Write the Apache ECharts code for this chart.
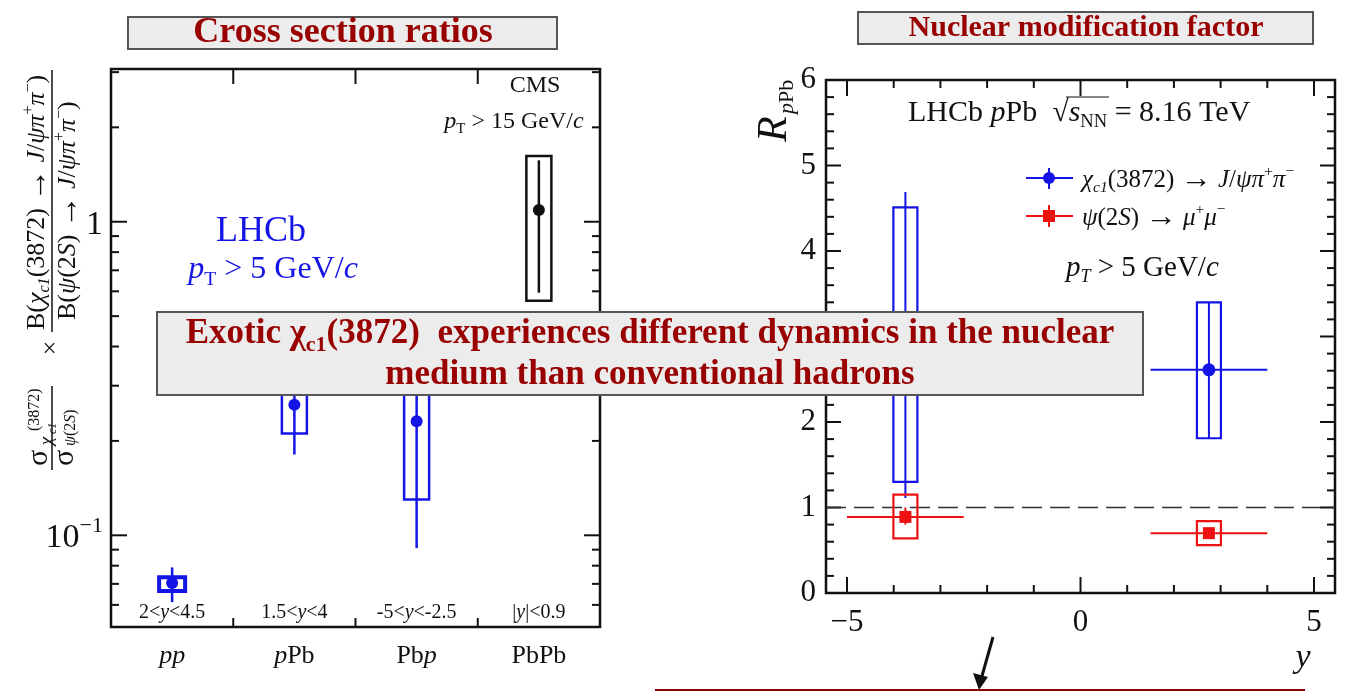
<!DOCTYPE html>
<html>
<head>
<meta charset="utf-8">
<script src="https://cdn.jsdelivr.net/npm/echarts@6/dist/echarts.min.js"></script>
<style>
  html, body { margin: 0; padding: 0; background: #ffffff; }
  #chart { width: 1345px; height: 692px; }
</style>
</head>
<body>
<div id="chart"></div>
<script>
// ---------- Left panel: cross-section ratios (log scale) ----------
const ratioCategories = ['pp', 'pPb', 'Pbp', 'PbPb'];
const ratioRapidity = ['2<y<4.5', '1.5<y<4', '-5<y<-2.5', '|y|<0.9'];
const ratioValue = [0.0705, 0.261, 0.231, 1.09];
const ratioStatLow = [0.0612, 0.181, 0.091, 0.594];
const ratioStatHigh = [0.079, 0.36, 0.45, 1.57];
const ratioSystLow = [0.0664, 0.211, 0.130, 0.56];
const ratioSystHigh = [0.0735, 0.32, 0.40, 1.62];
const ratioMajorTicks = [0.1, 1];
const ratioMinorTicks = [0.06, 0.07, 0.08, 0.09, 0.2, 0.3, 0.4, 0.5, 0.6, 0.7, 0.8, 0.9, 2, 3];

// ---------- Right panel: R_pPb versus rapidity ----------
const rapidityCenter = [-3.75, 2.75];
const rapidityLow = [-5, 1.5];
const rapidityHigh = [-2.5, 4];
const chiR = [2.9, 2.61];
const chiStatLow = [1.11, 1.81];
const chiStatHigh = [4.69, 3.40];
const chiSystLow = [1.30, 1.81];
const chiSystHigh = [4.51, 3.40];
const psiR = [0.89, 0.70];
const psiStatLow = [0.80, 0.65];
const psiStatHigh = [1.00, 0.75];
const psiSystLow = [0.64, 0.56];
const psiSystHigh = [1.15, 0.84];
const rReference = 1;
const rMajorTicks = [0, 1, 2, 3, 4, 5, 6];
const rMinorTicks = [0.2, 0.4, 0.6, 0.8, 1.2, 1.4, 1.6, 1.8, 2.2, 2.4, 2.6, 2.8, 3.2, 3.4, 3.6, 3.8,
                     4.2, 4.4, 4.6, 4.8, 5.2, 5.4, 5.6, 5.8];
const yMajorTicks = [-5, 0, 5];
const yMinorTicks = [-4, -3, -2, -1, 1, 2, 3, 4];

// ---------- styling ----------
const SERIF = '"Liberation Serif", "DejaVu Serif", serif';
const BLUE = '#1414e6';
const RED = '#ee1111';
const INK = '#111111';
const DARKRED = '#990000';
const ratioColors = [BLUE, BLUE, BLUE, INK];

function tok(size, c, extra) {
  return Object.assign({ fontFamily: SERIF, fontSize: size, fill: c, color: c }, extra || {});
}
function richSet(size, color) {
  const c = color || INK;
  const lh = size * 1.25;
  return {
    n: tok(size, c, { verticalAlign: 'middle', lineHeight: lh }),
    i: tok(size, c, { fontStyle: 'italic', verticalAlign: 'middle', lineHeight: lh }),
    a: tok(size * 1.25, c, { verticalAlign: 'middle', lineHeight: lh }),
    sub: tok(size * 0.62, c, { verticalAlign: 'bottom', lineHeight: size * 0.75 }),
    isub: tok(size * 0.62, c, { fontStyle: 'italic', verticalAlign: 'bottom', lineHeight: size * 0.75 }),
    sup: tok(size * 0.62, c, { verticalAlign: 'top', lineHeight: size * 0.75 })
  };
}
function richText(x, y, text, size, color, align, extra) {
  return Object.assign({
    type: 'text', x: x, y: y, z: 50,
    style: {
      text: text, rich: richSet(size, color),
      fontFamily: SERIF, fontSize: size, fill: color || INK,
      align: align || 'left', textAlign: align || 'left',
      verticalAlign: 'middle', textVerticalAlign: 'middle'
    }
  }, extra || {});
}

// ---------- series renderers ----------
function ratioFrameTicks(params, api) {
  const cs = params.coordSys;
  const L = cs.x, R = cs.x + cs.width, T = cs.y, B = cs.y + cs.height;
  const ch = [];
  const add = (x1, y1, x2, y2) => ch.push({ type: 'line', shape: { x1, y1, x2, y2 }, style: { stroke: INK, lineWidth: 2 } });
  ratioMajorTicks.forEach(v => { const y = api.coord([0, v])[1]; add(L, y, L + 16, y); add(R, y, R - 16, y); });
  ratioMinorTicks.forEach(v => { const y = api.coord([0, v])[1]; add(L, y, L + 8, y); add(R, y, R - 8, y); });
  for (let k = 0; k < ratioCategories.length - 1; k++) {
    const x = (api.coord([k, 1])[0] + api.coord([k + 1, 1])[0]) / 2;
    add(x, B, x, B - 9);
    add(x, T, x, T + 15);
  }
  ratioRapidity.forEach((label, k) => {
    ch.push({
      type: 'text', x: api.coord([k, 1])[0], y: B - 14,
      style: { text: label.replace(/y/g, '{i|y}'), rich: richSet(20), fontFamily: SERIF, fontSize: 20, fill: INK,
               align: 'center', verticalAlign: 'middle' }
    });
  });
  return { type: 'group', children: ch };
}

function ratioPoint(params, api) {
  const k = api.value(0);
  const color = ratioColors[k];
  const c = api.coord([k, api.value(1)]);
  const sLo = api.coord([k, api.value(2)])[1], sHi = api.coord([k, api.value(3)])[1];
  const bLo = api.coord([k, api.value(4)])[1], bHi = api.coord([k, api.value(5)])[1];
  const hw = k === 0 ? 13 : 12.5;
  return {
    type: 'group', children: [
      { type: 'rect', shape: { x: c[0] - hw, y: bHi, width: 2 * hw, height: bLo - bHi },
        style: { fill: 'none', stroke: color, lineWidth: k === 0 ? 4 : 2.5 } },
      { type: 'line', shape: { x1: c[0], y1: sHi, x2: c[0], y2: sLo }, style: { stroke: color, lineWidth: 2.5 } },
      { type: 'circle', shape: { cx: c[0], cy: c[1], r: 6 }, style: { fill: color, stroke: 'none' } }
    ]
  };
}

function rFrameTicks(params, api) {
  const cs = params.coordSys;
  const L = cs.x, R = cs.x + cs.width, T = cs.y, B = cs.y + cs.height;
  const ch = [];
  const add = (x1, y1, x2, y2) => ch.push({ type: 'line', shape: { x1, y1, x2, y2 }, style: { stroke: INK, lineWidth: 2 } });
  rMajorTicks.forEach(v => { const y = api.coord([0, v])[1]; add(L, y, L + 15, y); add(R, y, R - 15, y); });
  rMinorTicks.forEach(v => { const y = api.coord([0, v])[1]; add(L, y, L + 8, y); add(R, y, R - 8, y); });
  yMajorTicks.forEach(v => { const x = api.coord([v, 0])[0]; add(x, B, x, B - 16); add(x, T, x, T + 16); });
  yMinorTicks.forEach(v => { const x = api.coord([v, 0])[0]; add(x, B, x, B - 8); add(x, T, x, T + 8); });
  return { type: 'group', children: ch };
}

function rPoint(color, square) {
  return function (params, api) {
    const x = api.value(0), v = api.value(3);
    const c = api.coord([x, v]);
    const xl = api.coord([api.value(1), v])[0], xh = api.coord([api.value(2), v])[0];
    const sLo = api.coord([x, api.value(4)])[1], sHi = api.coord([x, api.value(5)])[1];
    const bLo = api.coord([x, api.value(6)])[1], bHi = api.coord([x, api.value(7)])[1];
    const hw = 12;
    const marker = square
      ? { type: 'rect', shape: { x: c[0] - 6, y: c[1] - 6, width: 12, height: 12 }, style: { fill: color, stroke: 'none' } }
      : { type: 'circle', shape: { cx: c[0], cy: c[1], r: 6.5 }, style: { fill: color, stroke: 'none' } };
    return {
      type: 'group', children: [
        { type: 'rect', shape: { x: c[0] - hw, y: bHi, width: 2 * hw, height: bLo - bHi },
          style: { fill: 'none', stroke: color, lineWidth: 2.2 } },
        { type: 'line', shape: { x1: xl, y1: c[1], x2: xh, y2: c[1] }, style: { stroke: color, lineWidth: 2 } },
        { type: 'line', shape: { x1: c[0], y1: sHi, x2: c[0], y2: sLo }, style: { stroke: color, lineWidth: 2 } },
        marker
      ]
    };
  };
}

const ratioData = ratioCategories.map((_, k) =>
  [k, ratioValue[k], ratioStatLow[k], ratioStatHigh[k], ratioSystLow[k], ratioSystHigh[k]]);
const chiData = rapidityCenter.map((x, k) =>
  [x, rapidityLow[k], rapidityHigh[k], chiR[k], chiStatLow[k], chiStatHigh[k], chiSystLow[k], chiSystHigh[k]]);
const psiData = rapidityCenter.map((x, k) =>
  [x, rapidityLow[k], rapidityHigh[k], psiR[k], psiStatLow[k], psiStatHigh[k], psiSystLow[k], psiSystHigh[k]]);

const R_XMIN = -5.45, R_XMAX = 5.45;

const boldRed = (size, extra) => tok(size, DARKRED, Object.assign({ fontWeight: 'bold', verticalAlign: 'middle', lineHeight: size * 1.3 }, extra || {}));

// ---------- decorations: titles, annotations, legend, axis titles ----------
const graphics = [
  // panel titles
  { type: 'rect', z: 40, shape: { x: 128, y: 17, width: 429, height: 32 }, style: { fill: '#ececec', stroke: '#555', lineWidth: 2 } },
  { type: 'text', z: 41, x: 343, y: 33, style: { text: 'Cross section ratios', fontFamily: SERIF, fontWeight: 'bold', fontSize: 36, fill: DARKRED, align: 'center', verticalAlign: 'middle' } },
  { type: 'rect', z: 40, shape: { x: 858, y: 12, width: 455, height: 32 }, style: { fill: '#ececec', stroke: '#555', lineWidth: 2 } },
  { type: 'text', z: 41, x: 1086, y: 28, style: { text: 'Nuclear modification factor', fontFamily: SERIF, fontWeight: 'bold', fontSize: 30, fill: DARKRED, align: 'center', verticalAlign: 'middle' } },

  // left panel annotations
  richText(535, 86, 'CMS', 24, INK, 'center'),
  richText(514, 122, '{i|p}{sub|T} > 15 GeV/{i|c}', 24, INK, 'center'),
  richText(261, 232, 'LHCb', 36, BLUE, 'center'),
  richText(273, 270, '{i|p}{sub|T} > 5 GeV/{i|c}', 32, BLUE, 'center'),

  // right panel annotations
  richText(908, 113, 'LHCb {i|p}Pb  √{i|s}{sub|NN} = 8.16 TeV', 30, INK, 'left'),
  { type: 'line', z: 50, shape: { x1: 1066, y1: 97, x2: 1109, y2: 97 }, style: { stroke: INK, lineWidth: 1.2 } },
  richText(1066, 268, '{i|p}{isub|T} > 5 GeV/{i|c}', 29, INK, 'left'),

  // legend
  { type: 'line', z: 50, shape: { x1: 1026, y1: 178, x2: 1073, y2: 178 }, style: { stroke: BLUE, lineWidth: 2 } },
  { type: 'line', z: 50, shape: { x1: 1049, y1: 168, x2: 1049, y2: 189 }, style: { stroke: BLUE, lineWidth: 2 } },
  { type: 'circle', z: 50, shape: { cx: 1049, cy: 178, r: 6 }, style: { fill: BLUE } },
  richText(1082, 180, '{i|χ}{isub|c1}(3872) {a|→} {i|J}/{i|ψπ}{sup|+}{i|π}{sup|−}', 25, INK, 'left'),
  { type: 'line', z: 50, shape: { x1: 1026, y1: 216, x2: 1073, y2: 216 }, style: { stroke: RED, lineWidth: 2 } },
  { type: 'line', z: 50, shape: { x1: 1049, y1: 205, x2: 1049, y2: 227 }, style: { stroke: RED, lineWidth: 2 } },
  { type: 'rect', z: 50, shape: { x: 1043, y: 210, width: 12, height: 12 }, style: { fill: RED } },
  richText(1082, 218, '{i|ψ}(2{i|S}) {a|→} {i|μ}{sup|+}{i|μ}{sup|−}', 25, INK, 'left'),

  // axis titles
  richText(1303, 658, '{i|y}', 34, INK, 'center'),
  {
    type: 'group', x: 775, y: 142, rotation: Math.PI / 2, z: 50,
    children: [
      { type: 'text', x: 0, y: 0, style: { text: 'R', fontFamily: SERIF, fontStyle: 'italic', fontSize: 42, fill: INK, align: 'left', verticalAlign: 'middle' } },
      richText(28, 12, '{i|p}{n|Pb}', 22, INK, 'left')
    ]
  },
  {
    type: 'group', x: 52, y: 472, rotation: Math.PI / 2, z: 50,
    children: [
      { type: 'text', x: 14, y: -13, style: { text: 'σ', fontFamily: SERIF, fontSize: 30, fill: INK, align: 'center', verticalAlign: 'middle' } },
      { type: 'text', x: 31, y: -5, style: { text: 'χ', fontFamily: SERIF, fontStyle: 'italic', fontSize: 19, fill: INK, align: 'center', verticalAlign: 'middle' } },
      { type: 'text', x: 38, y: 1, style: { text: 'c1', fontFamily: SERIF, fontStyle: 'italic', fontSize: 12, fill: INK, align: 'left', verticalAlign: 'middle' } },
      { type: 'text', x: 41, y: -17, style: { text: '(3872)', fontFamily: SERIF, fontSize: 16, fill: INK, align: 'left', verticalAlign: 'middle' } },
      { type: 'line', shape: { x1: 2, y1: 0, x2: 86, y2: 0 }, style: { stroke: INK, lineWidth: 1.5 } },
      { type: 'text', x: 14, y: 13, style: { text: 'σ', fontFamily: SERIF, fontSize: 30, fill: INK, align: 'center', verticalAlign: 'middle' } },
      richText(26, 19, '{i|ψ}(2{i|S})', 16, INK, 'left'),
      { type: 'text', x: 124, y: -1, style: { text: '×', fontFamily: SERIF, fontSize: 26, fill: INK, align: 'center', verticalAlign: 'middle' } },
      richText(142, -15, '{n|B(}{i|χ}{isub|c1}{n|(3872) }{a|→}{n| }{i|J}{n|/}{i|ψπ}{sup|+}{i|π}{sup|−}{n|)}', 26, INK, 'left'),
      { type: 'line', shape: { x1: 140, y1: 0, x2: 402, y2: 0 }, style: { stroke: INK, lineWidth: 1.5 } },
      richText(152, 16, '{n|B(}{i|ψ}{n|(2}{i|S}{n|) }{a|→}{n| }{i|J}{n|/}{i|ψπ}{sup|+}{i|π}{sup|−}{n|)}', 26, INK, 'left')
    ]
  },

  // summary statement across both panels
  { type: 'rect', z: 90, shape: { x: 157, y: 312, width: 986, height: 83 }, style: { fill: '#ececec', stroke: '#555', lineWidth: 2 } },
  {
    type: 'text', z: 91, x: 650, y: 334,
    style: {
      text: '{t|Exotic }{t|χ}{s|c1}{t|(3872)  experiences different dynamics in the nuclear}',
      rich: { t: boldRed(35), s: boldRed(22, { verticalAlign: 'bottom', lineHeight: 24 }) },
      fontFamily: SERIF, fontWeight: 'bold', fontSize: 35, fill: DARKRED,
      align: 'center', verticalAlign: 'middle'
    }
  },
  { type: 'text', z: 91, x: 650, y: 375, style: { text: 'medium than conventional hadrons', fontFamily: SERIF, fontWeight: 'bold', fontSize: 35, fill: DARKRED, align: 'center', verticalAlign: 'middle' } },

  // pointer and underline at the bottom
  { type: 'line', z: 50, shape: { x1: 993, y1: 637, x2: 982, y2: 676 }, style: { stroke: INK, lineWidth: 3 } },
  { type: 'polygon', z: 50, shape: { points: [[973, 673], [988, 677], [979, 690]] }, style: { fill: INK } },
  { type: 'line', z: 50, shape: { x1: 655, y1: 690, x2: 1305, y2: 690 }, style: { stroke: '#8b0000', lineWidth: 2 } }
];

const chart = echarts.init(document.getElementById('chart'), null, { renderer: 'canvas' });
chart.setOption({
  animation: false,
  backgroundColor: '#ffffff',
  grid: [
    { left: 111, top: 69, width: 489, height: 558, show: true, borderColor: INK, borderWidth: 2.5, backgroundColor: 'transparent' },
    { left: 826, top: 80, width: 509, height: 513, show: true, borderColor: INK, borderWidth: 2.5, backgroundColor: 'transparent' }
  ],
  xAxis: [
    {
      type: 'category', gridIndex: 0, data: ratioCategories, boundaryGap: true,
      axisLine: { show: false }, axisTick: { show: false }, splitLine: { show: false },
      axisLabel: {
        margin: 16, fontFamily: SERIF, fontSize: 26, color: INK, interval: 0,
        formatter: v => v.replace(/p/g, '{i|p}'),
        rich: { i: { fontFamily: SERIF, fontSize: 26, fontStyle: 'italic', color: INK } }
      }
    },
    {
      type: 'value', gridIndex: 1, min: R_XMIN, max: R_XMAX,
      axisLine: { show: false }, axisTick: { show: false }, splitLine: { show: false },
      axisLabel: {
        customValues: yMajorTicks, margin: 14, fontFamily: SERIF, fontSize: 31, color: INK,
        formatter: v => (v < 0 ? '−' + Math.abs(v) : String(v))
      }
    }
  ],
  yAxis: [
    {
      type: 'log', gridIndex: 0, logBase: 10, min: 0.051, max: 3.07,
      axisLine: { show: false }, axisTick: { show: false }, splitLine: { show: false },
      axisLabel: {
        margin: 8, fontFamily: SERIF, fontSize: 34, color: INK, showMinLabel: false, showMaxLabel: false,
        formatter: v => (Math.abs(v - 1) < 1e-6 ? '{m|1}' : (Math.abs(v - 0.1) < 1e-7 ? '{m|10}{e|−1}' : '')),
        rich: {
          m: { fontFamily: SERIF, fontSize: 34, color: INK, verticalAlign: 'bottom', lineHeight: 40 },
          e: { fontFamily: SERIF, fontSize: 22, color: INK, verticalAlign: 'top', lineHeight: 22 }
        }
      }
    },
    {
      type: 'value', gridIndex: 1, min: 0, max: 6, interval: 1,
      axisLine: { show: false }, axisTick: { show: false }, splitLine: { show: false },
      axisLabel: { margin: 10, fontFamily: SERIF, fontSize: 31, color: INK }
    }
  ],
  series: [
    { type: 'custom', name: 'ratio frame', xAxisIndex: 0, yAxisIndex: 0, silent: true, clip: false,
      renderItem: ratioFrameTicks, data: [[0, 1]], z: 3 },
    { type: 'custom', name: 'ratio', xAxisIndex: 0, yAxisIndex: 0, silent: true, clip: false,
      renderItem: ratioPoint, data: ratioData, z: 5 },
    { type: 'custom', name: 'R frame', xAxisIndex: 1, yAxisIndex: 1, silent: true, clip: false,
      renderItem: rFrameTicks, data: [[0, 0]], z: 3 },
    { type: 'line', name: 'unity', xAxisIndex: 1, yAxisIndex: 1, silent: true, symbol: 'none',
      data: [[R_XMIN, rReference], [R_XMAX, rReference]],
      lineStyle: { color: '#333', width: 1.6, type: [20, 8] }, z: 4 },
    { type: 'custom', name: 'chi_c1(3872)', xAxisIndex: 1, yAxisIndex: 1, silent: true, clip: false,
      renderItem: rPoint(BLUE, false), data: chiData, z: 5 },
    { type: 'custom', name: 'psi(2S)', xAxisIndex: 1, yAxisIndex: 1, silent: true, clip: false,
      renderItem: rPoint(RED, true), data: psiData, z: 5 }
  ],
  graphic: { elements: graphics }
});
</script>
</body>
</html>
